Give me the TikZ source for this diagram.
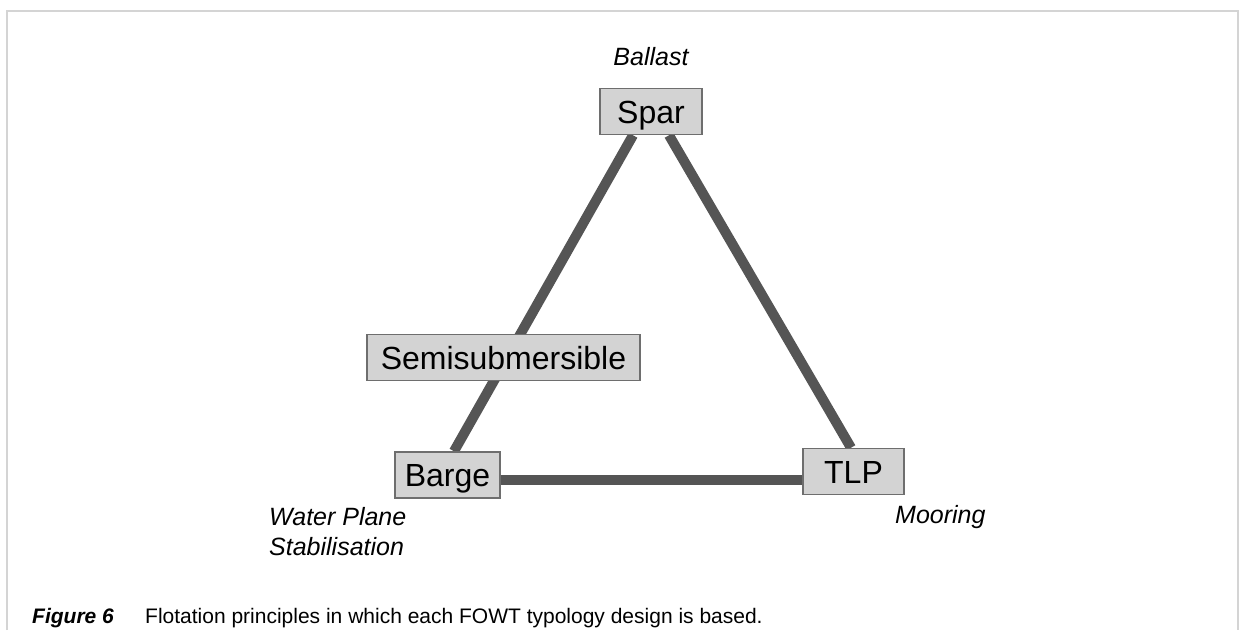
\documentclass[tikz,border=0pt]{standalone}
\usepackage{fontspec}
\setmainfont{Liberation Sans}
\usetikzlibrary{calc,backgrounds}
\definecolor{framegray}{HTML}{D4D4D4}
\definecolor{boxfill}{HTML}{D3D3D3}
\definecolor{boxline}{HTML}{6E6E6E}
\definecolor{linkgray}{HTML}{555555}
\tikzset{
  typebox/.style={draw=boxline, line width=1.5pt, fill=boxfill, font=\fontsize{32}{32}\selectfont,
    inner xsep=6pt, inner ysep=0pt, minimum height=46pt, text height=23pt, text depth=0pt},
  link/.style={draw=linkgray, line width=10pt},
  principle/.style={font=\fontsize{25}{30}\selectfont\itshape, inner sep=0pt},
  captext/.style={font=\fontsize{21}{21}\selectfont, inner sep=0pt}
}
\begin{document}
\begin{tikzpicture}[x=1pt,y=-1pt]
\useasboundingbox (0,0) rectangle (1239,630);
\draw[framegray, line width=2pt] (7,630) -- (7,11) -- (1238,11) -- (1238,630);

\node[typebox, minimum width=102pt] (spar) at (651,111.5) {Spar};
\node[typebox, minimum width=105pt] (barge) at (447.5,475) {Barge};
\node[typebox, minimum width=101pt] (tlp) at (853.5,471.5) {TLP};
\node[typebox, inner xsep=14pt, anchor=west] (semi) at (366,357.5) {Semisubmersible};

\begin{pgfonlayer}{background}
\draw[link] ($(spar.south)+(-18,0)$) -- ($(barge.north)+(6.5,0)$);
\draw[link] ($(spar.south)+(18,0)$) -- ($(tlp.north)+(-2.5,0)$);
\draw[link] ($(barge.east)+(0,5)$) -- ($(tlp.west)+(0,8.5)$);
\end{pgfonlayer}

\node[principle, anchor=base] (ballast) at (651,65) {Ballast};
\node[principle, anchor=base west, align=left] (water) at (269,555) {Water Plane\\Stabilisation};
\node[principle, anchor=base west] (mooring) at (895,523) {Mooring};

\node[captext, anchor=base west, font=\fontsize{21}{21}\selectfont\bfseries\itshape] (fig) at (32,623) {Figure 6};
\node[captext, anchor=base west] (captxt) at (145,623) {Flotation principles in which each FOWT typology design is based.};
\end{tikzpicture}
\end{document}
